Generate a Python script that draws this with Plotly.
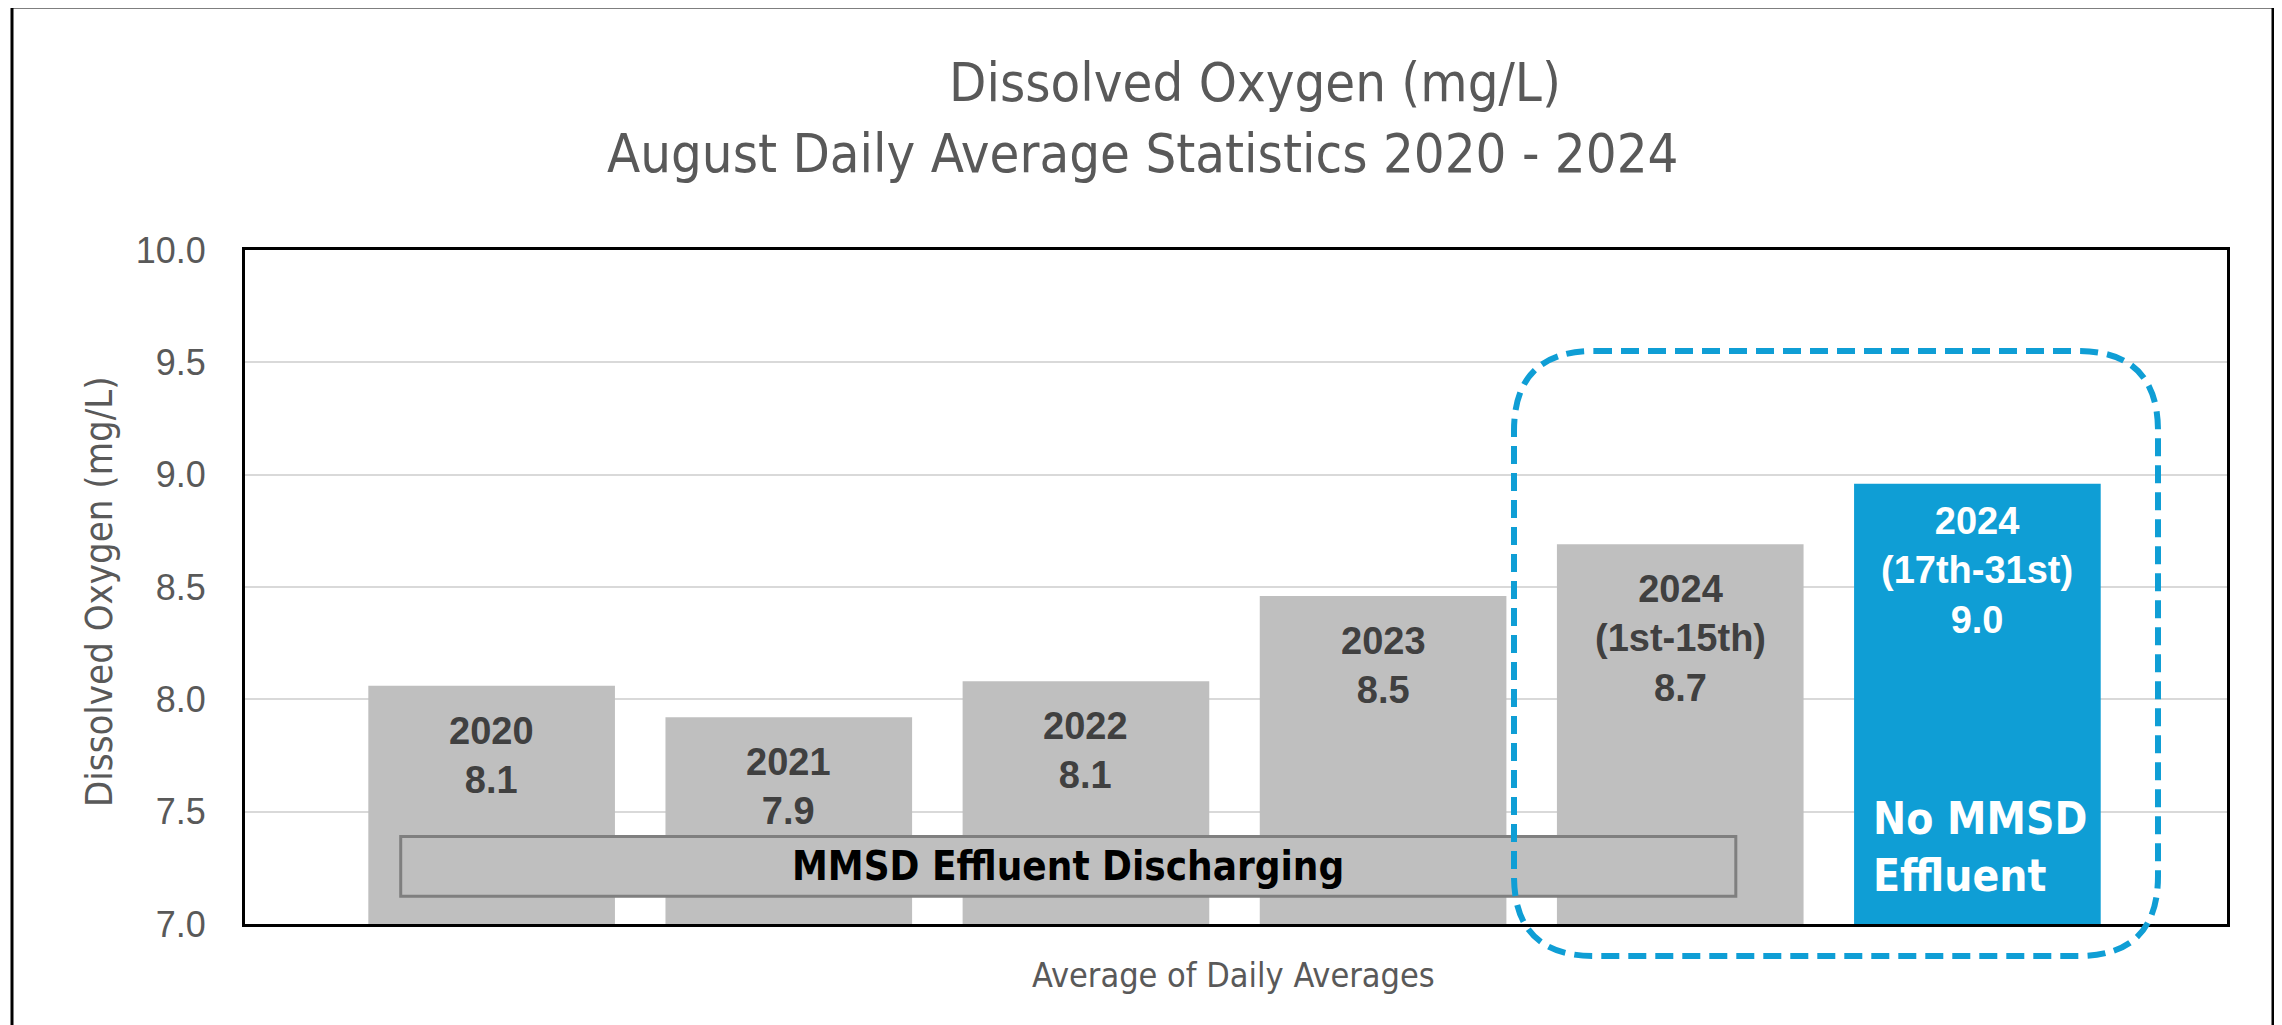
import plotly.graph_objects as go

# ---- data ----
categories = ["2020", "2021", "2022", "2023", "2024 (1st-15th)", "2024 (17th-31st)"]
label_lines = ["2020", "2021", "2022", "2023", "2024<br>(1st-15th)", "2024<br>(17th-31st)"]
values = [8.06, 7.92, 8.08, 8.46, 8.69, 8.96]
value_labels = ["8.1", "7.9", "8.1", "8.5", "8.7", "9.0"]
y_ticks = [7.0, 7.5, 8.0, 8.5, 9.0, 9.5, 10.0]
y_tick_text = ["7.0", "7.5", "8.0", "8.5", "9.0", "9.5", "10.0"]

GREY = "#BFBFBF"
BLUE = "#0F9ED5"
NARROW = "DejaVu Sans Condensed, Liberation Sans Narrow, sans-serif"
SANS = "Liberation Sans, Arial, sans-serif"

colors = [GREY] * 5 + [BLUE]
xs = list(range(len(categories)))

fig = go.Figure()
fig.add_bar(
    x=xs, y=values, width=0.83, marker=dict(color=colors, line=dict(width=0)),
    hovertext=categories, showlegend=False,
)

# bar labels
for i, (v, l1, l2) in enumerate(zip(values, label_lines, value_labels)):
    last = i == len(values) - 1
    fig.add_annotation(
        x=i, y=v, xref="x", yref="y", text=f"<b>{l1}<br>{l2}</b>",
        showarrow=False, yanchor="top", xanchor="center",
        yshift=-14 if last else -22,
        font=dict(family=SANS, size=38, color="white" if last else "#404040"),
    )

fig.add_annotation(
    x=len(values) - 1, y=7.343, xref="x", yref="y", text="<b>No MMSD<br>Effluent</b>",
    showarrow=False, xanchor="left", yanchor="middle", xshift=-106, align="left",
    font=dict(family=NARROW, size=44, color="white"),
)

# MMSD Effluent Discharging box
fig.add_shape(type="rect", xref="x", yref="y", x0=-0.306, x1=4.187, y0=7.123, y1=7.389,
              fillcolor=GREY, line=dict(color="#7F7F7F", width=3), layer="above")
fig.add_annotation(x=(-0.306 + 4.187) / 2, y=7.256, xref="x", yref="y",
                   xanchor="center", yanchor="middle",
                   text="<b>MMSD Effluent Discharging</b>", showarrow=False,
                   font=dict(family=NARROW, size=40, color="black"))

# geometry: page has 8px body margin
OFF = 8
W, H = 2282 - OFF, 1025 - OFF
L, R, T, B = 245 - OFF, 55, 250 - OFF, 101
PW, PH = W - L - R, H - T - B


def px(x):
    return (x - OFF - L) / PW


def py(y):
    return (H - B - (y - OFF)) / PH


# dashed rounded rectangle (target page pixels -> paper)
x0, x1, y0, y1, r = 1514, 2158, 351, 956, 80
rx, ry = r / PW, r / PH
X0, X1, Yt, Yb = px(x0), px(x1), py(y0), py(y1)
path = (f"M {X0+rx},{Yt} L {X1-rx},{Yt} Q {X1},{Yt} {X1},{Yt-ry} "
        f"L {X1},{Yb+ry} Q {X1},{Yb} {X1-rx},{Yb} "
        f"L {X0+rx},{Yb} Q {X0},{Yb} {X0},{Yb+ry} "
        f"L {X0},{Yt-ry} Q {X0},{Yt} {X0+rx},{Yt} Z")
fig.add_shape(type="path", xref="paper", yref="paper", path=path,
              line=dict(color=BLUE, width=6, dash="18px,9px"), layer="above")

# outer frame
fig.add_shape(type="rect", xref="paper", yref="paper",
              x0=px(12), x1=px(2273), y0=py(1040), y1=py(7),
              line=dict(color="black", width=3), layer="above")

# titles
common = dict(xref="paper", yref="paper", showarrow=False, xanchor="center", yanchor="middle")
fig.add_annotation(x=px(1255), y=py(83), text="Dissolved Oxygen (mg/L)",
                   font=dict(family=NARROW, size=54, color="#595959"), **common)
fig.add_annotation(x=px(1142), y=py(154), text="August Daily Average Statistics 2020 - 2024",
                   font=dict(family=NARROW, size=54, color="#595959"), **common)
fig.add_annotation(x=px(99), y=py(592), text="Dissolved Oxygen (mg/L)", textangle=-90,
                   font=dict(family=NARROW, size=38, color="#595959"), **common)
fig.add_annotation(x=px(1233), y=py(975), text="Average of Daily Averages",
                   font=dict(family=NARROW, size=34, color="#595959"), **common)

fig.update_layout(
    width=W, height=H, margin=dict(l=L, r=R, t=T, b=B, autoexpand=False),
    paper_bgcolor="white", plot_bgcolor="white", showlegend=False,
    xaxis=dict(range=[-0.83, 5.84], showticklabels=False, showgrid=False, zeroline=False,
               showline=True, mirror=True, linecolor="black", linewidth=3, ticks=""),
    yaxis=dict(range=[7.0, 10.0], tickvals=y_ticks, ticktext=y_tick_text,
               showgrid=True, gridcolor="#D9D9D9", gridwidth=2, zeroline=False,
               showline=True, mirror=True, linecolor="black", linewidth=3,
               ticks="", ticklabelstandoff=29,
               tickfont=dict(family=SANS, size=36, color="#595959")),
)

fig.write_html("out.html")
